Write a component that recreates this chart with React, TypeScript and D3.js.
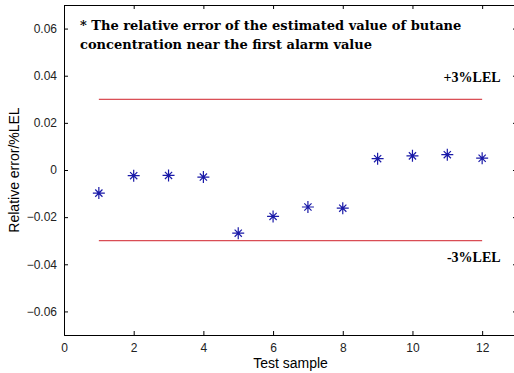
import React, { useRef, useEffect } from 'react';
import * as d3 from 'd3';

// test samples and relative error
const samples = [1, 2, 3, 4, 5, 6, 7, 8, 9, 10, 11, 12];
const relError = [-0.0098, -0.0024, -0.0023, -0.003, -0.0268, -0.0197, -0.0157, -0.0162, 0.0048, 0.006, 0.0065, 0.005];
const limits = [0.03, -0.03];
const limitLabels = ['+3%LEL', '-3%LEL'];
const xTicks = [0, 2, 4, 6, 8, 10, 12];
const yTicks = [-0.06, -0.04, -0.02, 0, 0.02, 0.04, 0.06];
const note = ['* The relative error of the estimated value of butane', 'concentration near the first alarm value'];

const App = () => {
    const ref = useRef<SVGSVGElement>(null);

    useEffect(() => {
        const svg = d3.select(ref.current);
        svg.selectAll('*').remove();

        const width = 514;
        const height = 373;
        const margin = { top: 5, right: -3, bottom: 38, left: 64 };

        const x = d3.scaleLinear().domain([0, 13]).range([margin.left, width - margin.right]);
        const y = d3.scaleLinear().domain([-0.07, 0.07]).range([height - margin.bottom, margin.top]);

        svg.append('rect').attr('width', width).attr('height', height).attr('fill', '#fff');

        const fmt = (d: number) => (d === 0 ? '0' : d3.format('.2f')(d));
        const tickFont = (g: any) => g.selectAll('text').attr('font-family', 'Liberation Sans, Arial, sans-serif').attr('font-size', 12).attr('fill', '#222');

        // bottom & top axes
        svg.append('g').attr('transform', `translate(0,${y(-0.07)})`)
            .call(d3.axisBottom(x).tickValues(xTicks).tickSize(-4).tickPadding(8).tickFormat(d3.format('d')))
            .call(tickFont)
            .call(g => g.select('.domain').attr('stroke', '#000'));
        svg.append('g').attr('transform', `translate(0,${y(0.07)})`)
            .call(d3.axisTop(x).tickValues(xTicks).tickSize(-4).tickFormat(() => ''))
            .call(g => g.select('.domain').attr('stroke', '#000'));

        // left & right axes
        svg.append('g').attr('transform', `translate(${x(0)},0)`)
            .call(d3.axisLeft(y).tickValues(yTicks).tickSize(-4).tickPadding(7).tickFormat(fmt as any))
            .call(tickFont)
            .call(g => g.select('.domain').attr('stroke', '#000'));
        svg.append('g').attr('transform', `translate(${x(13)},0)`)
            .call(d3.axisRight(y).tickValues(yTicks).tickSize(-4).tickFormat(() => ''))
            .call(g => g.select('.domain').attr('stroke', '#000'));

        // limit lines
        svg.selectAll('line.limit').data(limits).join('line')
            .attr('class', 'limit')
            .attr('x1', x(1)).attr('x2', x(12))
            .attr('y1', d => y(d)).attr('y2', d => y(d))
            .attr('stroke', '#d0202a').attr('stroke-width', 1);

        svg.selectAll('text.lim').data(limits).join('text')
            .attr('class', 'lim')
            .attr('x', x(12.53))
            .attr('y', (d, i) => (i === 0 ? y(d) - 17 : y(d) + 21))
            .attr('text-anchor', 'end')
            .attr('font-family', 'Liberation Serif, Times New Roman, serif')
            .attr('font-weight', 'bold').attr('font-size', 14)
            .text((d, i) => limitLabels[i]);

        // asterisk markers
        const star = (cx: number, cy: number) => {
            const r = 6;
            const d = [0, 45, 90, 135].map(a => {
                const t = (a * Math.PI) / 180;
                const rr = a % 90 === 0 ? r : r * 0.85;
                return `M${cx - rr * Math.cos(t)},${cy - rr * Math.sin(t)}L${cx + rr * Math.cos(t)},${cy + rr * Math.sin(t)}`;
            });
            return d.join('');
        };
        svg.selectAll('path.pt').data(samples).join('path')
            .attr('class', 'pt')
            .attr('d', (d, i) => star(x(d), y(relError[i])))
            .attr('stroke', '#1a1aa8').attr('stroke-width', 1.2).attr('fill', 'none');

        // note
        svg.selectAll('text.note').data(note).join('text')
            .attr('class', 'note')
            .attr('x', 80)
            .attr('y', (d, i) => 30 + i * 18.5)
            .attr('font-family', 'DejaVu Serif, serif')
            .attr('font-weight', 'bold').attr('font-size', 13)
            .text(d => d);

        // axis labels
        svg.append('text')
            .attr('x', x(6.5)).attr('y', 368)
            .attr('text-anchor', 'middle')
            .attr('font-family', 'Liberation Sans, Arial, sans-serif').attr('font-size', 14)
            .text('Test sample');
        svg.append('text')
            .attr('transform', `translate(19,${y(0)}) rotate(-90)`)
            .attr('text-anchor', 'middle')
            .attr('font-family', 'Liberation Sans, Arial, sans-serif').attr('font-size', 14)
            .text('Relative error/%LEL');
    }, []);

    return <svg ref={ref} width={514} height={373} style={{ position: 'absolute', left: 0, top: 0 }}></svg>;
};

export default App;
